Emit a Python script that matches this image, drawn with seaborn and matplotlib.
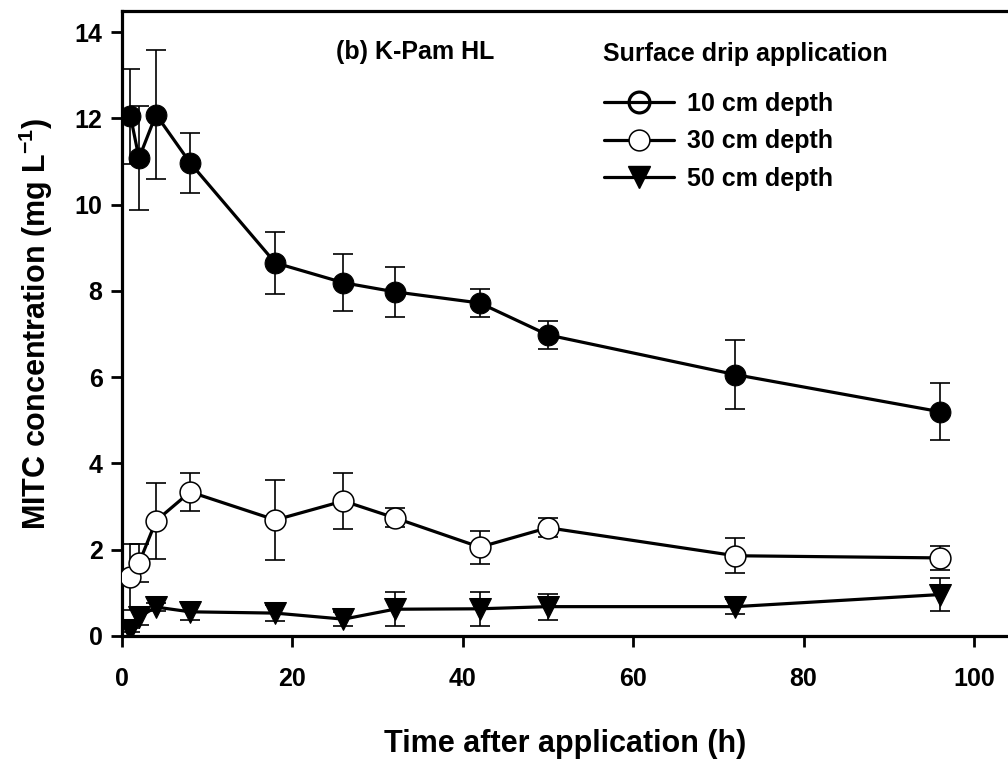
import numpy as np
import pandas as pd
import matplotlib
matplotlib.use('Agg')
import matplotlib.pyplot as plt
import seaborn as sns
from matplotlib.lines import Line2D

# Dados (tempo em horas, MITC em mg/L)
tempo = [1, 2, 4, 8, 18, 26, 32, 42, 50, 72, 96]

mitc_10 = [12.05, 11.08, 12.09, 10.97, 8.65, 8.19, 7.98, 7.72, 6.98, 6.06, 5.20]
erro_10 = [1.10, 1.20, 1.50, 0.70, 0.72, 0.66, 0.58, 0.33, 0.33, 0.80, 0.66]

mitc_30 = [1.37, 1.69, 2.67, 3.34, 2.69, 3.13, 2.74, 2.06, 2.51, 1.86, 1.81]
erro_30 = [0.76, 0.44, 0.88, 0.45, 0.92, 0.65, 0.22, 0.38, 0.22, 0.40, 0.27]

mitc_50 = [0.14, 0.44, 0.67, 0.56, 0.53, 0.39, 0.62, 0.63, 0.68, 0.68, 0.96]
erro_50 = [0.05, 0.19, 0.10, 0.20, 0.19, 0.17, 0.40, 0.40, 0.30, 0.18, 0.38]

rotulos = ['10 cm depth', '30 cm depth', '50 cm depth']

sns.set_style('ticks')
plt.rcParams['font.family'] = ['Liberation Sans', 'DejaVu Sans']
plt.rcParams['font.weight'] = 'bold'
plt.rcParams['mathtext.fontset'] = 'custom'
plt.rcParams['mathtext.bf'] = 'Liberation Sans:bold'
plt.rcParams['mathtext.rm'] = 'Liberation Sans:bold'
plt.rcParams['mathtext.default'] = 'bf'
for k in ['text.color', 'axes.labelcolor', 'xtick.color', 'ytick.color', 'axes.edgecolor']:
    plt.rcParams[k] = 'black'

fig = plt.figure(figsize=(10.08, 7.61), dpi=100)
ax = fig.add_axes([0.121, 0.1643, 0.879, 0.8212])

# barras de erro (atras dos marcadores)
for y, e in [(mitc_10, erro_10), (mitc_30, erro_30), (mitc_50, erro_50)]:
    ax.errorbar(tempo, y, yerr=e, fmt='none', ecolor='black', elinewidth=1.2,
                capsize=7.5, capthick=1.2, zorder=2)

sns.lineplot(x=tempo, y=mitc_10, ax=ax, color='black', lw=2.3, marker='o', markersize=15,
             markerfacecolor='black', markeredgecolor='black', estimator=None, errorbar=None, zorder=3)
sns.lineplot(x=tempo, y=mitc_30, ax=ax, color='black', lw=2.3, marker='o', markersize=15,
             markerfacecolor='white', markeredgecolor='black', markeredgewidth=1.1,
             estimator=None, errorbar=None, zorder=3)
sns.lineplot(x=tempo, y=mitc_50, ax=ax, color='black', lw=2.3, marker='v', markersize=16,
             markerfacecolor='black', markeredgecolor='black', estimator=None, errorbar=None, zorder=3)

ax.set_xlim(0, 104)
ax.set_ylim(0, 14.49)
ax.set_xticks([0, 20, 40, 60, 80, 100])
ax.set_yticks([0, 2, 4, 6, 8, 10, 12, 14])
ax.tick_params(axis='both', direction='out', length=8, width=2, labelsize=18)
ax.tick_params(axis='x', pad=14)
ax.tick_params(axis='y', pad=6)
for s in ['left', 'bottom', 'top']:
    ax.spines[s].set_linewidth(2.3)
ax.spines['right'].set_visible(False)

ax.set_xlabel('Time after application (h)', fontsize=22, fontweight='bold', labelpad=28)
ax.set_ylabel(r'MITC concentration (mg L$^{-1}$)', fontsize=22, fontweight='bold', labelpad=14)

ax.text(0.331, 0.935, '(b) K-Pam HL', transform=ax.transAxes, fontsize=18,
        fontweight='bold', ha='center', va='center')

# titulo da legenda como texto separado
fig.text(603 / 1008, 1 - 54 / 761, 'Surface drip application', fontsize=18,
         fontweight='bold', ha='left', va='center')

handles = [
    Line2D([], [], color='black', lw=2.3, marker='o', markersize=15,
           markerfacecolor='none', markeredgecolor='black', markeredgewidth=2.3),
    Line2D([], [], color='black', lw=2.3, marker='o', markersize=15,
           markerfacecolor='white', markeredgecolor='black', markeredgewidth=1.1),
    Line2D([], [], color='black', lw=2.3, marker='v', markersize=16,
           markerfacecolor='black', markeredgecolor='black'),
]
leg = ax.legend(handles, rotulos, loc='upper left',
                bbox_to_anchor=(581 / 1008, 1 - 69 / 761), bbox_transform=fig.transFigure,
                frameon=False, fontsize=18, handlelength=2.8,
                handletextpad=0.55, labelspacing=0.55)

fig.savefig('out.png', dpi=100)
